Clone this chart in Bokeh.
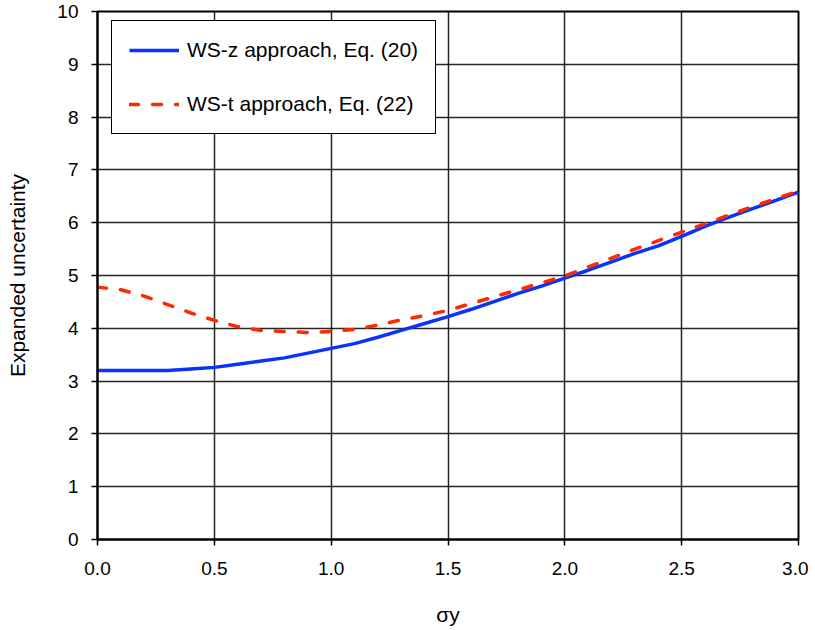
from bokeh.plotting import figure
from bokeh.models import Range1d, FixedTicker, PrintfTickFormatter, Legend, LegendItem
from bokeh.embed import file_html
from bokeh.resources import INLINE

sigma_y = [0.0, 0.1, 0.2, 0.3, 0.4, 0.5, 0.6, 0.7, 0.8, 0.9, 1.0,
           1.1, 1.2, 1.3, 1.4, 1.5, 1.6, 1.7, 1.8, 1.9, 2.0,
           2.1, 2.2, 2.3, 2.4, 2.5, 2.6, 2.7, 2.8, 2.9, 3.0]
ws_z = [3.20, 3.20, 3.20, 3.20, 3.23, 3.26, 3.32, 3.38, 3.44, 3.53, 3.62,
        3.71, 3.83, 3.96, 4.09, 4.22, 4.36, 4.51, 4.66, 4.80, 4.95,
        5.10, 5.26, 5.42, 5.56, 5.74, 5.93, 6.10, 6.26, 6.42, 6.58]
ws_t = [4.78, 4.73, 4.61, 4.45, 4.29, 4.15, 4.03, 3.96, 3.94, 3.92, 3.94,
        3.98, 4.06, 4.16, 4.24, 4.34, 4.47, 4.60, 4.73, 4.86, 4.99,
        5.16, 5.33, 5.50, 5.66, 5.82, 5.98, 6.14, 6.30, 6.45, 6.60]
x_ticks = [0.0, 0.5, 1.0, 1.5, 2.0, 2.5, 3.0]
y_ticks = [0, 1, 2, 3, 4, 5, 6, 7, 8, 9, 10]
series_names = ["WS-z approach, Eq. (20)", "WS-t approach, Eq. (22)"]

FONT = "Liberation Sans"

p = figure(width=808, height=629, output_backend="svg", toolbar_location=None,
           x_range=Range1d(0, 3), y_range=Range1d(0, 10),
           min_border_left=97, min_border_right=10, min_border_top=11, min_border_bottom=90)

p.outline_line_color = "black"
p.outline_line_width = 2
p.background_fill_color = "white"
p.border_fill_color = "white"

for g in (p.xgrid[0], p.ygrid[0]):
    g.grid_line_color = "black"
    g.grid_line_width = 1.5
    g.grid_line_alpha = 0.85

p.xaxis.ticker = FixedTicker(ticks=x_ticks)
p.yaxis.ticker = FixedTicker(ticks=y_ticks)
p.xaxis.formatter = PrintfTickFormatter(format="%.1f")
p.yaxis.formatter = PrintfTickFormatter(format="%d")

for ax in (p.xaxis[0], p.yaxis[0]):
    ax.axis_line_color = "black"
    ax.axis_line_width = 2
    ax.major_tick_line_color = "black"
    ax.major_tick_line_width = 1.5
    ax.major_tick_out = 6
    ax.major_tick_in = 0
    ax.minor_tick_line_color = None
    ax.major_label_text_font = FONT
    ax.major_label_text_font_size = "19px"
    ax.major_label_text_color = "black"
    ax.axis_label_text_font = FONT
    ax.axis_label_text_font_size = "21px"
    ax.axis_label_text_font_style = "normal"
    ax.axis_label_text_color = "black"

p.xaxis.axis_label = "σy"
p.yaxis.axis_label = "Expanded uncertainty"
p.xaxis.major_label_standoff = 16
p.yaxis.major_label_standoff = 13
p.xaxis.axis_label_standoff = 25
p.yaxis.axis_label_standoff = 25

r1 = p.line(sigma_y, ws_z, line_color="#0A32FF", line_width=3.5)
r2 = p.line(sigma_y, ws_t, line_color="#FF2800", line_width=3.5,
            line_dash="9 14", line_cap="round")

legend = Legend(items=[LegendItem(label=series_names[0], renderers=[r1]),
                       LegendItem(label=series_names[1], renderers=[r2])],
                location=(14, 405))
legend.label_text_font = FONT
legend.label_text_font_size = "21px"
legend.label_text_color = "black"
legend.glyph_width = 50
legend.glyph_height = 20
legend.label_height = 20
legend.label_standoff = 8
legend.padding = 17
legend.spacing = 30
legend.margin = 0
legend.border_line_color = "black"
legend.border_line_width = 1.5
legend.border_line_alpha = 1
legend.background_fill_color = "white"
legend.background_fill_alpha = 1
p.add_layout(legend, "center")

open("out.html", "w").write(file_html(p, INLINE))
